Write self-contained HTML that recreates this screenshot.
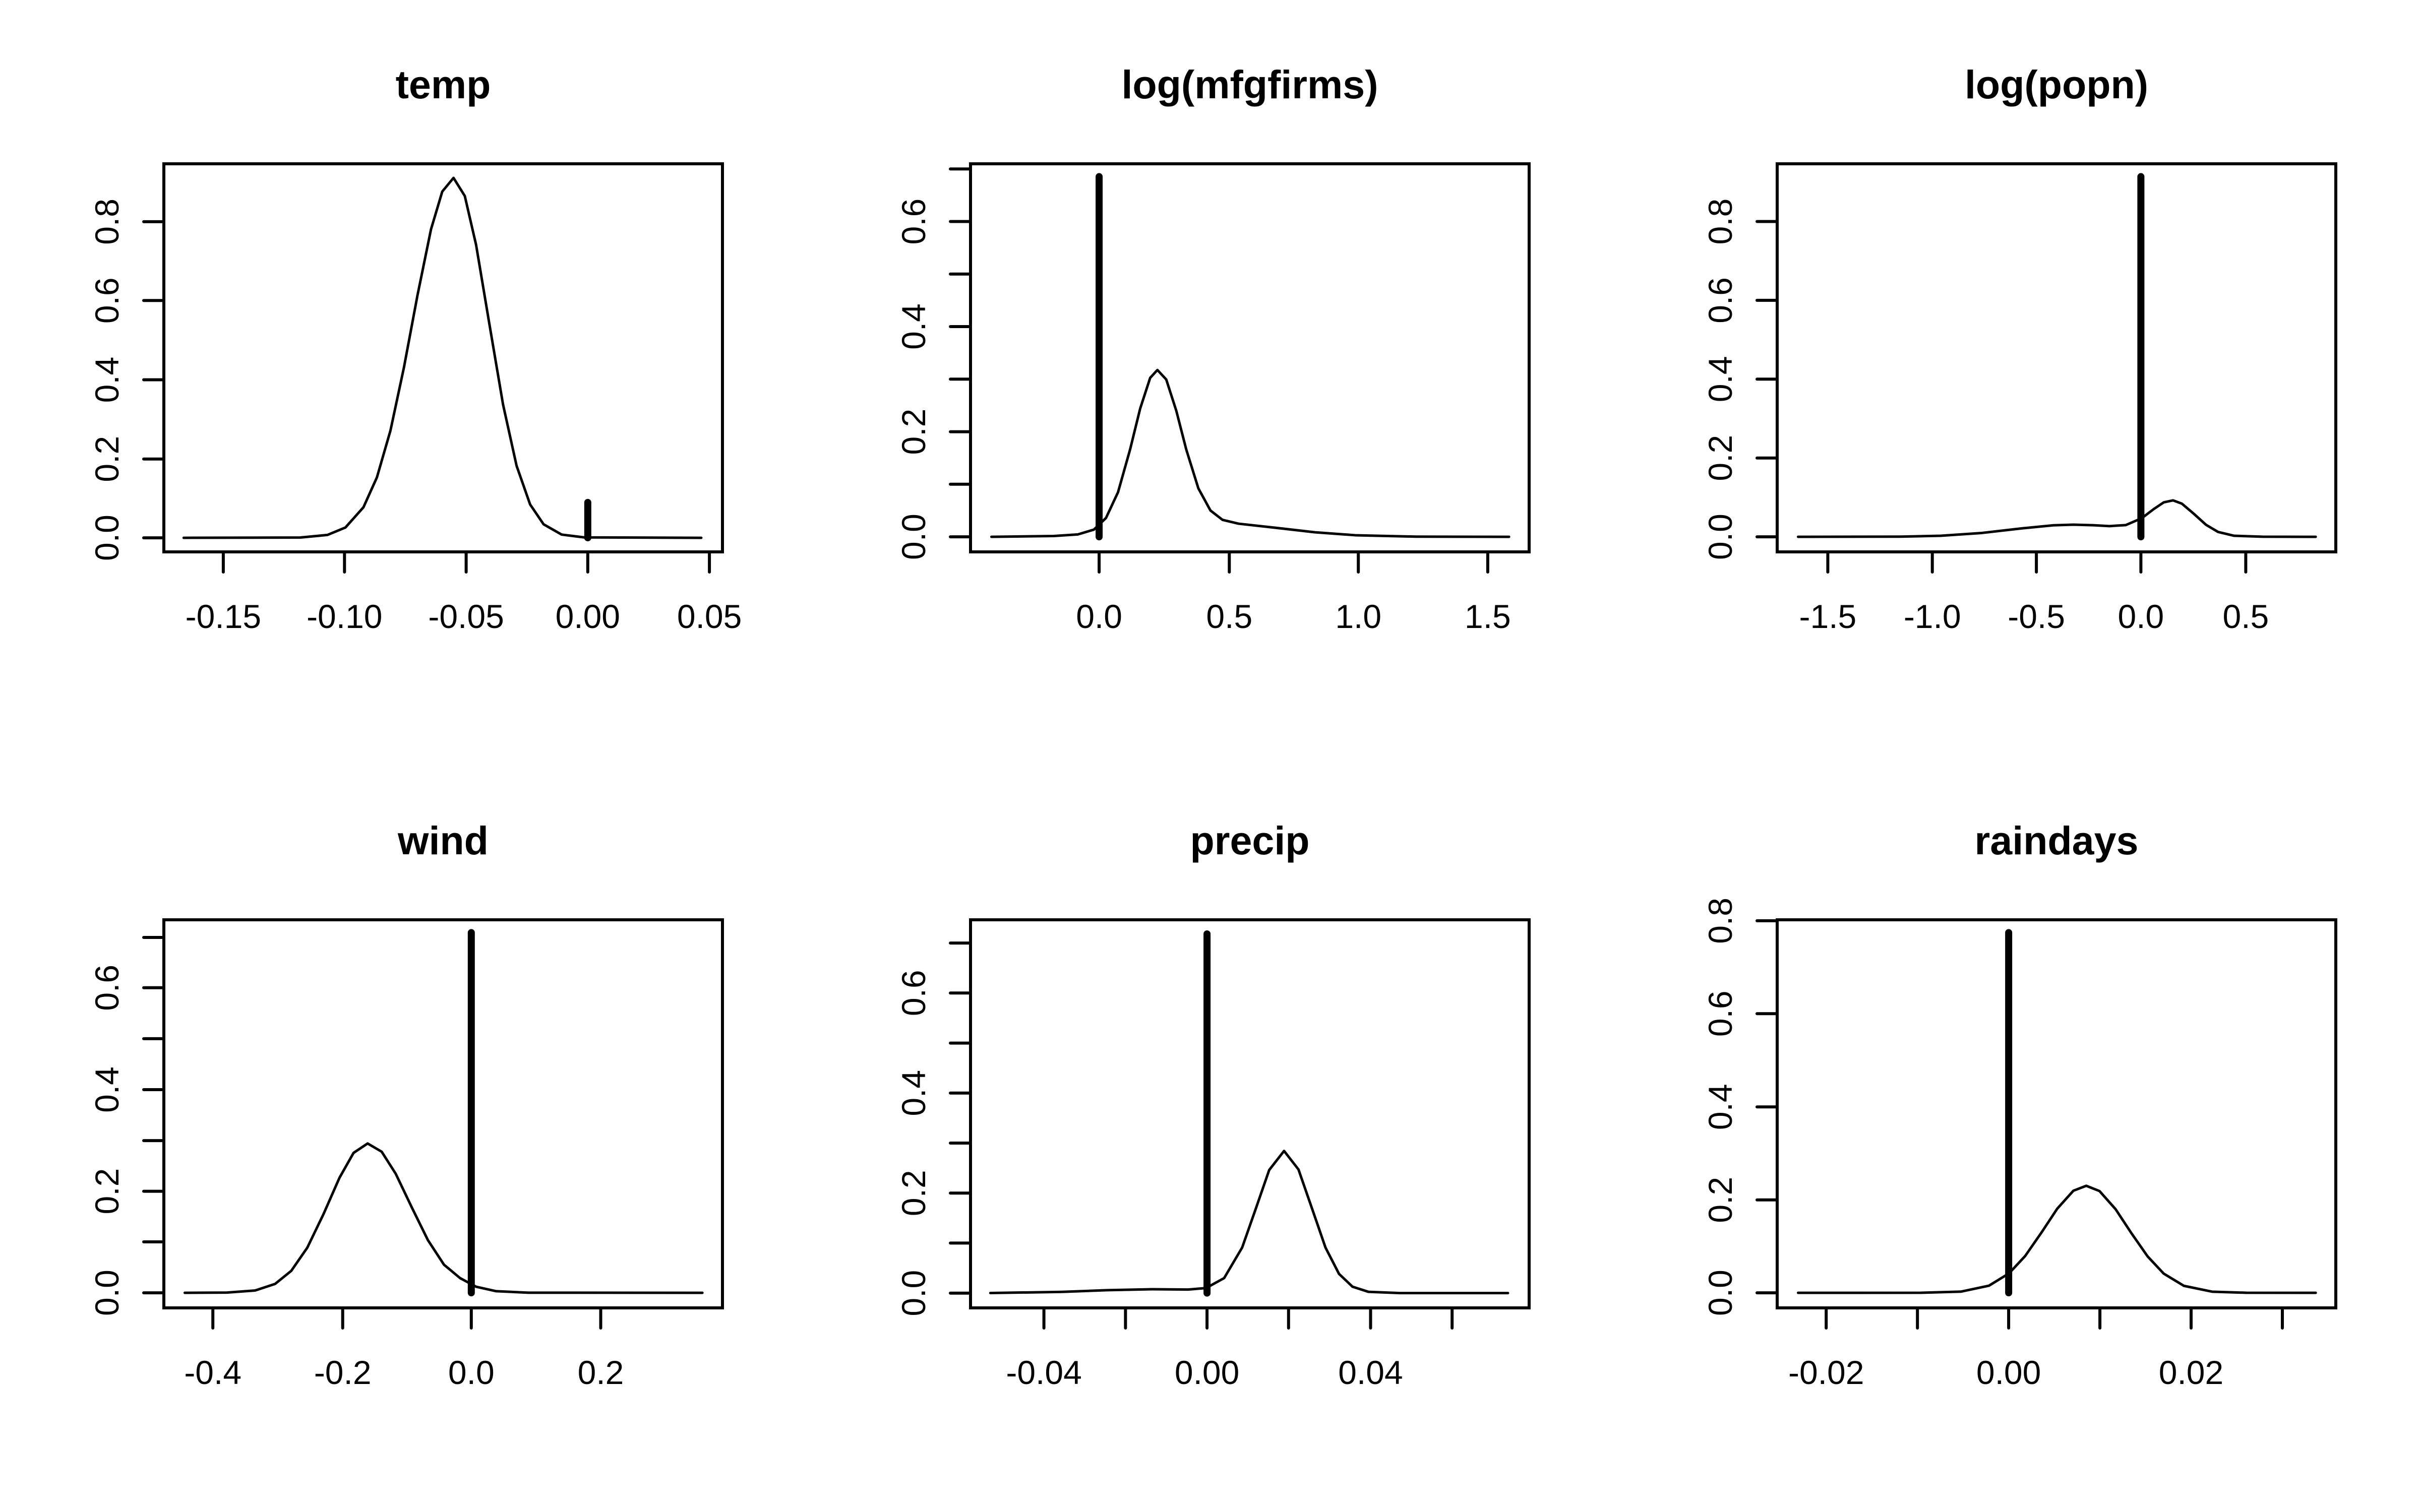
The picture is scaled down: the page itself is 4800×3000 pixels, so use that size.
<!DOCTYPE html>
<html><head><meta charset="utf-8"><style>
html,body{margin:0;padding:0;background:#fff;}
svg{display:block;}
text{font-family:"Liberation Sans",Arial,sans-serif;fill:#000;}
.c{fill:none;stroke:#000;stroke-width:5;stroke-linejoin:round;stroke-linecap:round;}
.t{stroke:#000;stroke-width:14;stroke-linecap:round;}
</style></head><body>
<svg width="4800" height="3000" xmlns="http://www.w3.org/2000/svg">
<rect width="4800" height="3000" fill="#fff"/>
<g font-size="79" font-weight="bold" text-anchor="middle">
<text x="879" y="195">temp</text><text x="2479" y="195">log(mfgfirms)</text><text x="4079" y="195">log(popn)</text>
<text x="879" y="1695">wind</text><text x="2479" y="1695">precip</text><text x="4079" y="1695">raindays</text>
</g>
<g fill="none" stroke="#000" stroke-width="6">
<rect x="325" y="325" width="1108" height="770"/><rect x="1925" y="325" width="1108" height="770"/><rect x="3525" y="325" width="1108" height="770"/>
<rect x="325" y="1825" width="1108" height="770"/><rect x="1925" y="1825" width="1108" height="770"/><rect x="3525" y="1825" width="1108" height="770"/>
</g>
<g stroke="#000" stroke-width="6" stroke-linecap="round" fill="none">
<!-- temp -->
<path d="M442.9,1095H1407.1M442.9,1095v40M683.3,1095v40M924.6,1095v40M1165.8,1095v40M1407.1,1095v40"/>
<path d="M325,1067.1V439.9M325,1067.1h-40M325,910.7h-40M325,753.5h-40M325,596.3h-40M325,439.9h-40"/>
<!-- mfgfirms -->
<path d="M2180.1,1095H2950.9M2180.1,1095v40M2438.3,1095v40M2694.2,1095v40M2950.9,1095v40"/>
<path d="M1925,1065.1V335.2M1925,1065.1h-40M1925,960.8h-40M1925,856.6h-40M1925,752.3h-40M1925,648h-40M1925,543.7h-40M1925,439.5h-40M1925,335.2h-40"/>
<!-- popn -->
<path d="M3625.4,1095H4454.4M3625.4,1095v40M3832.7,1095v40M4039.1,1095v40M4246.4,1095v40M4454.4,1095v40"/>
<path d="M3525,1065.1V439.5M3525,1065.1h-40M3525,908.7h-40M3525,752.3h-40M3525,595.9h-40M3525,439.5h-40"/>
<!-- wind -->
<path d="M422.2,2595H1191.5M422.2,2595v40M679.7,2595v40M934.8,2595v40M1191.5,2595v40"/>
<path d="M325,2565.1V1860M325,2565.1h-40M325,2464h-40M325,2363.6h-40M325,2263.1h-40M325,2162h-40M325,2060.9h-40M325,1959.8h-40M325,1860h-40"/>
<!-- precip -->
<path d="M2070.6,2595H2880.2M2070.6,2595v40M2232.4,2595v40M2394.1,2595v40M2555.8,2595v40M2718.5,2595v40M2880.2,2595v40"/>
<path d="M1925,2565.7V1871.1M1925,2565.7h-40M1925,2466.4h-40M1925,2367.2h-40M1925,2268h-40M1925,2168.8h-40M1925,2069.6h-40M1925,1970.3h-40M1925,1871.1h-40"/>
<!-- raindays -->
<path d="M3622.2,2595H4527M3622.2,2595v40M3803.2,2595v40M3984.1,2595v40M4165.1,2595v40M4346,2595v40M4527,2595v40"/>
<path d="M3525,2565.1V1826.9M3525,2565.1h-40M3525,2380.7h-40M3525,2196.3h-40M3525,2011.3h-40M3525,1826.9h-40"/>
</g>
<g font-size="66" text-anchor="middle">
<text x="442.9" y="1246">-0.15</text><text x="683.3" y="1246">-0.10</text><text x="924.6" y="1246">-0.05</text><text x="1165.8" y="1246">0.00</text><text x="1407.1" y="1246">0.05</text>
<text x="2180.1" y="1246">0.0</text><text x="2438.3" y="1246">0.5</text><text x="2694.2" y="1246">1.0</text><text x="2950.9" y="1246">1.5</text>
<text x="3625.4" y="1246">-1.5</text><text x="3832.7" y="1246">-1.0</text><text x="4039.1" y="1246">-0.5</text><text x="4246.4" y="1246">0.0</text><text x="4454.4" y="1246">0.5</text>
<text x="422.2" y="2746">-0.4</text><text x="679.7" y="2746">-0.2</text><text x="934.8" y="2746">0.0</text><text x="1191.5" y="2746">0.2</text>
<text x="2070.6" y="2746">-0.04</text><text x="2394.1" y="2746">0.00</text><text x="2718.5" y="2746">0.04</text>
<text x="3622.2" y="2746">-0.02</text><text x="3984.1" y="2746">0.00</text><text x="4346" y="2746">0.02</text>

<text transform="translate(235,1067.1) rotate(-90)">0.0</text><text transform="translate(235,910.7) rotate(-90)">0.2</text><text transform="translate(235,753.5) rotate(-90)">0.4</text><text transform="translate(235,596.3) rotate(-90)">0.6</text><text transform="translate(235,439.9) rotate(-90)">0.8</text>
<text transform="translate(1835,1065.1) rotate(-90)">0.0</text><text transform="translate(1835,856.6) rotate(-90)">0.2</text><text transform="translate(1835,648) rotate(-90)">0.4</text><text transform="translate(1835,439.5) rotate(-90)">0.6</text>
<text transform="translate(3435,1065.1) rotate(-90)">0.0</text><text transform="translate(3435,908.7) rotate(-90)">0.2</text><text transform="translate(3435,752.3) rotate(-90)">0.4</text><text transform="translate(3435,595.9) rotate(-90)">0.6</text><text transform="translate(3435,439.5) rotate(-90)">0.8</text>
<text transform="translate(235,2565.1) rotate(-90)">0.0</text><text transform="translate(235,2363.6) rotate(-90)">0.2</text><text transform="translate(235,2162) rotate(-90)">0.4</text><text transform="translate(235,1959.8) rotate(-90)">0.6</text>
<text transform="translate(1835,2565.7) rotate(-90)">0.0</text><text transform="translate(1835,2367.2) rotate(-90)">0.2</text><text transform="translate(1835,2168.8) rotate(-90)">0.4</text><text transform="translate(1835,1970.3) rotate(-90)">0.6</text>
<text transform="translate(3435,2565.1) rotate(-90)">0.0</text><text transform="translate(3435,2380.7) rotate(-90)">0.2</text><text transform="translate(3435,2196.3) rotate(-90)">0.4</text><text transform="translate(3435,2011.3) rotate(-90)">0.6</text><text transform="translate(3435,1826.9) rotate(-90)">0.8</text>
</g>

<!-- temp -->
<g transform="translate(148.97,99.19) scale(0.89355,0.79793)">
<polyline class="c" vector-effect="non-scaling-stroke" points="241,1213 500,1212.3 560,1205.9 600,1187.4 640,1137.2 670,1062.6 700,946.3 730,789 760,610 790,446 815,352 840,318 865,363 890,484 920,684 950,882 980,1034 1010,1130 1040,1179.5 1080,1205 1130,1212 1390,1213"/>
<line class="t" vector-effect="non-scaling-stroke" x1="1138" y1="1213" x2="1138" y2="1125"/>
</g>
<!-- mfgfirms -->
<g transform="translate(1850.87,250.61) scale(0.79712,0.63584)">
<polyline class="c" vector-effect="non-scaling-stroke" points="145,1281 300,1278.4 360,1273.5 400,1258.5 430,1222.4 460,1142 490,1008.7 515,881.4 540,785 558,760.4 580,790 605,887.5 630,1009.4 660,1130 690,1198.8 720,1228 760,1240 850,1252.5 950,1266.8 1050,1276 1200,1280.4 1433,1281"/>
<line class="t" vector-effect="non-scaling-stroke" x1="413" y1="1281" x2="413" y2="157"/>
</g>
<!-- popn -->
<g transform="translate(3450.87,250.61) scale(0.79712,0.63584)">
<polyline class="c" vector-effect="non-scaling-stroke" points="145,1281 400,1280.4 500,1277.6 600,1269.3 700,1254.9 780,1245.1 830,1243 880,1244.9 920,1247.5 960,1244.5 1000,1223 1030,1194.4 1055,1173.4 1078,1167.3 1100,1177.5 1130,1209.4 1160,1243.4 1190,1265.8 1230,1277.7 1300,1280.6 1433,1281"/>
<line class="t" vector-effect="non-scaling-stroke" x1="998" y1="1281" x2="998" y2="157"/>
</g>
<!-- wind -->
<g transform="translate(250.87,1750.61) scale(0.79712,0.63584)">
<polyline class="c" vector-effect="non-scaling-stroke" points="145,1281 250,1280.3 320,1273.8 370,1253 410,1212.5 450,1140 490,1036 530,922 565,844.4 600,815 635,840.6 670,909.5 710,1014.6 750,1116.4 790,1193.2 830,1235 870,1262 920,1275.9 1000,1280.6 1433,1281"/>
<line class="t" vector-effect="non-scaling-stroke" x1="858" y1="1281" x2="858" y2="157"/>
</g>
<!-- precip -->
<g transform="translate(1748.97,1751.63) scale(0.89355,0.69873)">
<polyline class="c" vector-effect="non-scaling-stroke" points="241,1164.8 400,1161.6 500,1156.8 600,1154 680,1155 720,1150.6 760,1122.4 800,1035.6 830,926.2 860,815.5 893,761.3 925,814 955,924.6 985,1035.8 1015,1110.5 1045,1146.9 1080,1161.3 1150,1165 1390,1165"/>
<line class="t" vector-effect="non-scaling-stroke" x1="722" y1="1165" x2="722" y2="145"/>
</g>
<!-- raindays -->
<g transform="translate(3450.87,1750.61) scale(0.79712,0.63584)">
<polyline class="c" vector-effect="non-scaling-stroke" points="145,1281 450,1280.9 550,1277.3 620,1258.7 670,1220.2 710,1166.2 750,1094 790,1018.2 830,962.4 862,947 895,963.4 935,1020 975,1096 1015,1167.8 1055,1221.3 1105,1259.2 1175,1277.4 1260,1280.8 1433,1281"/>
<line class="t" vector-effect="non-scaling-stroke" x1="669" y1="1281" x2="669" y2="157"/>
</g>
</svg>
</body></html>
